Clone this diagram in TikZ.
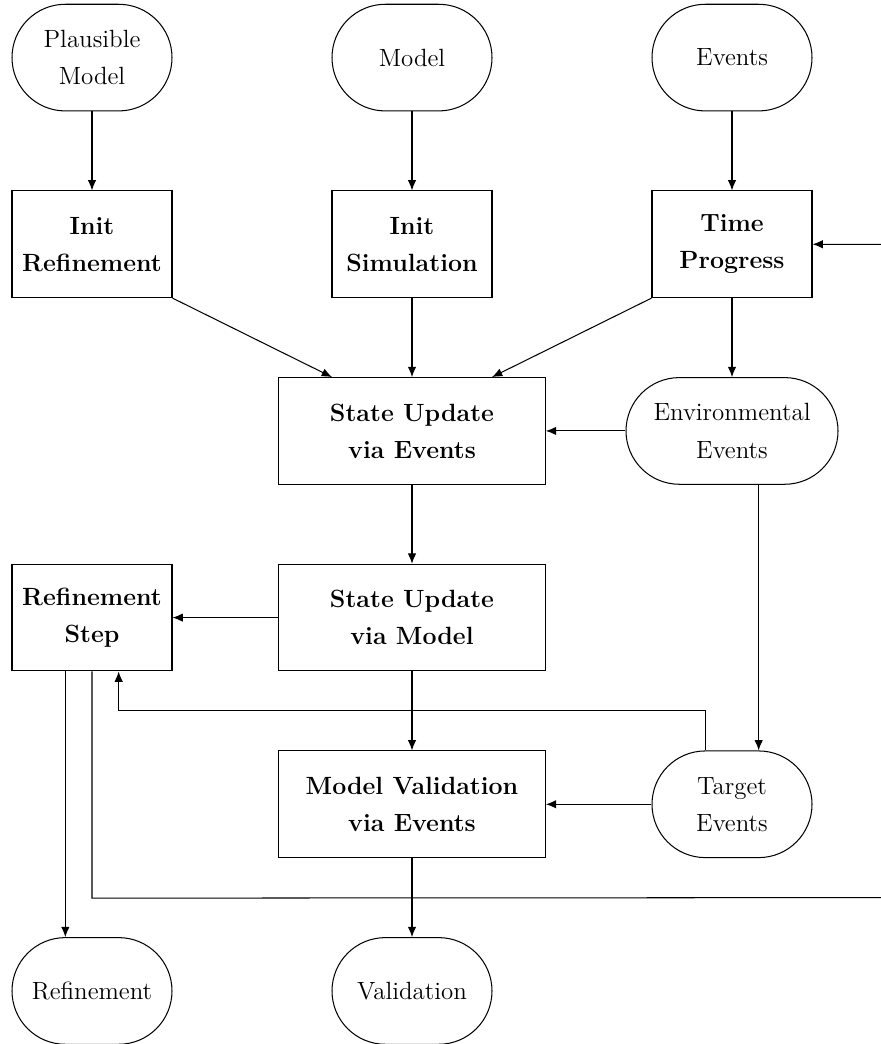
\documentclass[tikz,border=0pt]{standalone}
\usetikzlibrary{arrows.meta,calc}
\begin{document}
\begin{tikzpicture}[
  line width=0.55pt,
  box/.style={draw, rectangle, minimum width=3cm, minimum height=2cm, align=center, font=\fontsize{13.3}{19.8}\selectfont\bfseries},
  wbox/.style={box, minimum width=5cm},
  io/.style={draw, rectangle, rounded corners=1cm, minimum width=3cm, minimum height=2cm, align=center, font=\fontsize{13.3}{19.8}\selectfont},
  arr/.style={-{Latex[length=5.5pt,width=4.5pt]}}
]
\useasboundingbox (0,0) rectangle (16.5,-19.575);
% row 1
\node[io] (pm) at (1.725,-1.08) {Plausible\\Model};
\node[io] (m)  at (7.725,-1.08) {Model};
\node[io] (ev) at (13.725,-1.08) {Events};
% row 2
\node[box] (ir) at (1.725,-4.58) {Init\\Refinement};
\node[box] (is) at (7.725,-4.58) {Init\\Simulation};
\node[box] (tp) at (13.725,-4.58) {Time\\Progress};
% row 3
\node[wbox] (sue) at (7.725,-8.08) {State Update\\via Events};
\node[io, minimum width=3.975cm] (env) at (13.725,-8.08) {Environmental\\Events};
% row 4
\node[box] (rs) at (1.725,-11.58) {Refinement\\Step};
\node[wbox] (sum) at (7.725,-11.58) {State Update\\via Model};
% row 5
\node[wbox] (mv) at (7.725,-15.08) {Model Validation\\via Events};
\node[io] (te) at (13.725,-15.08) {Target\\Events};
% row 6
\node[io] (rf) at (1.725,-18.58) {Refinement};
\node[io] (val) at (7.725,-18.58) {Validation};

\draw[arr] (pm) -- (ir);
\draw[arr] (m) -- (is);
\draw[arr] (ev) -- (tp);
\draw[arr] (ir.south east) -- ($(sue.north)+(-1.5,0)$);
\draw[arr] (is) -- (sue);
\draw[arr] (tp.south west) -- ($(sue.north)+(1.5,0)$);
\draw[arr] (tp) -- (env);
\draw[arr] (env) -- (sue);
\draw[arr] ($(env.south)+(0.5,0)$) -- ($(te.north)+(0.5,0)$);
\draw[arr] (sue) -- (sum);
\draw[arr] (sum) -- (rs);
\draw[arr] (sum) -- (mv);
\draw[arr] (te) -- (mv);
\coordinate (tk) at ($(te.north)+(-0.5,0.75)$);
\draw[arr] ($(te.north)+(-0.5,0)$) -- (tk) -| ($(rs.south)+(0.5,0)$);
\draw[arr] ($(rs.south)+(-0.5,0)$) -- ($(rf.north)+(-0.5,0)$);
\coordinate (fb1) at ($(rs.south)+(0,-4.25)$);
\coordinate (fb2) at (16.6,-16.83);
\coordinate (fb3) at (16.6,-4.58);
\draw[arr] (rs.south) -- (fb1) -- (fb2) -- (fb3) -- (tp.east);
\draw[arr] (mv) -- (val);
\end{tikzpicture}
\end{document}
